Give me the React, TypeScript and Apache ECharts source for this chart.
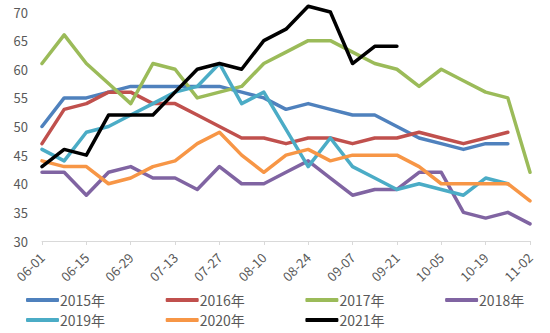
import React, { useEffect, useRef } from "react";
import * as echarts from "echarts";

const categories = ["06-01","06-08","06-15","06-22","06-29","07-06","07-13","07-20","07-27","08-03","08-10","08-17","08-24","08-31","09-07","09-14","09-21","09-28","10-05","10-12","10-19","10-26","11-02"];
const y2015 = [50,55,55,56,57,57,57,57,57,56,55,53,54,53,52,52,50,48,47,46,47,47];
const y2016 = [47,53,54,56,56,54,54,52,50,48,48,47,48,48,47,48,48,49,48,47,48,49];
const y2017 = [61,66,61,57.5,54,61,60,55,56,57,61,63,65,65,63,61,60,57,60,58,56,55,42];
const y2018 = [42,42,38,42,43,41,41,39,43,40,40,42,44,41,38,39,39,42,42,35,34,35,33];
const y2019 = [46,44,49,50,52,54,56,57,61,54,56,49.5,43,48,43,41,39,40,39,38,41,40];
const y2020 = [44,43,43,40,41,43,44,47,49,45,42,45,46,44,45,45,45,43,40,40,40,40,37];
const y2021 = [43,46,45,52,52,52,56,60,61,60,65,67,71,70,61,64,64];

const seriesNames = ["2015年","2016年","2017年","2018年","2019年","2020年","2021年"];
const seriesData = [y2015, y2016, y2017, y2018, y2019, y2020, y2021];
const colors = ["#4F81BD","#C0504D","#9BBB59","#8064A2","#4BACC6","#F79646","#000000"];

const FONT = "'Noto Sans CJK SC', 'Open Sans', sans-serif";

export default function App() {
  const ref = useRef<HTMLDivElement>(null);
  useEffect(() => {
    if (!ref.current) return;
    const chart = echarts.init(ref.current, null, { renderer: "svg" });
    const legends = seriesNames.map((name, i) => ({
      icon: "roundRect",
      itemWidth: 33,
      itemHeight: 4,
      itemGap: 0,
      left: 26 + (i % 4) * 139.7,
      top: i < 4 ? 293 : 313,
      padding: 0,
      data: [name],
      textStyle: { color: "#595959", fontSize: 14, fontFamily: FONT, padding: [0, 0, 0, -4] },
    }));
    chart.setOption({
      animation: false,
      color: colors,
      textStyle: { fontFamily: FONT },
      grid: { left: 42, right: 20, top: 12, bottom: 92, containLabel: false },
      legend: legends,
      xAxis: {
        type: "category",
        data: categories,
        boundaryGap: false,
        axisLine: { lineStyle: { color: "#d9d9d9", width: 1 } },
        axisTick: { show: true, interval: 1, length: 4, lineStyle: { color: "#d9d9d9" } },
        axisLabel: { interval: 1, rotate: 45, color: "#595959", fontSize: 13, fontFamily: FONT, margin: 14 },
        splitLine: { show: false },
      },
      yAxis: {
        type: "value",
        min: 30,
        max: 70,
        interval: 5,
        axisLine: { show: false },
        axisTick: { show: false },
        splitLine: { show: false },
        axisLabel: { color: "#595959", fontSize: 13, fontFamily: FONT, margin: 14 },
      },
      series: seriesNames.map((name, i) => ({
        name,
        type: "line",
        data: seriesData[i],
        symbol: "none",
        showSymbol: false,
        clip: false,
        lineStyle: { width: 3.5, color: colors[i], cap: "round", join: "round" },
        itemStyle: { color: colors[i] },
      })),
    });
    return () => chart.dispose();
  }, []);
  return <div ref={ref} style={{ width: 550, height: 333, position: "absolute", left: 0, top: 0 }} />;
}
